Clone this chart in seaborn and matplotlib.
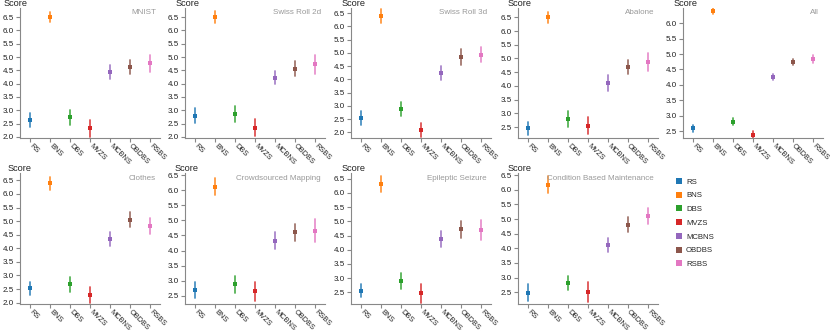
import numpy as np
import pandas as pd
import seaborn as sns
import matplotlib
matplotlib.use("Agg")
import matplotlib.pyplot as plt
from matplotlib.patches import Patch
from matplotlib.ticker import MultipleLocator, FormatStrFormatter

methods = ["RS", "BNS", "DBS", "MVZS", "MCBNS", "OBDBS", "RSBS"]
palette = ["#1f77b4", "#ff7f0e", "#2ca02c", "#d62728", "#9467bd", "#8c564b", "#e377c2"]

datasets = ["MNIST", "Swiss Roll 2d", "Swiss Roll 3d", "Abalone", "All",
            "Clothes", "Crowdsourced Mapping", "Epileptic Seizure", "Condition Based Maintenance"]

mnist_mean = [2.63, 6.51, 2.73, 2.32, 4.43, 4.64, 4.76]
mnist_err = [0.27, 0.19, 0.27, 0.31, 0.27, 0.26, 0.31]
swiss2d_mean = [2.80, 6.50, 2.86, 2.35, 4.23, 4.56, 4.73]
swiss2d_err = [0.28, 0.23, 0.29, 0.31, 0.25, 0.29, 0.35]
swiss3d_mean = [2.54, 6.39, 2.89, 2.10, 4.25, 4.86, 4.93]
swiss3d_err = [0.27, 0.25, 0.26, 0.27, 0.27, 0.30, 0.29]
abalone_mean = [2.46, 6.50, 2.79, 2.55, 4.12, 4.69, 4.88]
abalone_err = [0.24, 0.20, 0.29, 0.32, 0.29, 0.26, 0.32]
all_mean = [2.59, 6.38, 2.81, 2.39, 4.26, 4.74, 4.83]
all_err = [0.11, 0.10, 0.11, 0.11, 0.10, 0.11, 0.13]
clothes_mean = [2.53, 6.39, 2.68, 2.28, 4.35, 5.05, 4.82]
clothes_err = [0.24, 0.23, 0.28, 0.29, 0.26, 0.27, 0.31]
crowd_mean = [2.70, 6.12, 2.88, 2.65, 4.33, 4.60, 4.66]
crowd_err = [0.27, 0.28, 0.29, 0.32, 0.27, 0.29, 0.39]
epileptic_mean = [2.56, 6.30, 2.89, 2.46, 4.38, 4.72, 4.70]
epileptic_err = [0.24, 0.28, 0.28, 0.33, 0.29, 0.29, 0.35]
cbm_mean = [2.49, 6.17, 2.82, 2.51, 4.10, 4.80, 5.11]
cbm_err = [0.28, 0.29, 0.25, 0.33, 0.24, 0.26, 0.27]

means = [mnist_mean, swiss2d_mean, swiss3d_mean, abalone_mean, all_mean,
         clothes_mean, crowd_mean, epileptic_mean, cbm_mean]
errs = [mnist_err, swiss2d_err, swiss3d_err, abalone_err, all_err,
        clothes_err, crowd_err, epileptic_err, cbm_err]

# y domains per panel
ylims = [(1.96, 6.84), (1.96, 6.84), (1.79, 6.69), (2.10, 6.84), (2.28, 6.49),
         (1.95, 6.77), (2.23, 6.57), (2.09, 6.70), (2.10, 6.57)]

sns.set_theme(style="white")
plt.rcParams["font.family"] = ["Liberation Sans", "DejaVu Sans"]

W, H = 830, 332
fig = plt.figure(figsize=(W / 100, H / 100), dpi=100)

lefts = [20, 185, 351, 518, 683]
rows = [(8, 138), (173, 304)]
score_off = [16, 9, 9, 10, 9, 12, 10, 9, 10]
axw = 140
axis_col = "#888888"

for i, name in enumerate(datasets):
    r, c = divmod(i, 5)
    top, bot = rows[r]
    left = lefts[c]
    ax = fig.add_axes([left / W, 1 - bot / H, axw / W, (bot - top) / H])
    m = np.array(means[i]); e = np.array(errs[i])
    df = pd.DataFrame({
        "method": np.repeat(methods, 3),
        "score": np.column_stack([m - e, m, m + e]).ravel(),
    })
    sns.pointplot(data=df, x="method", y="score", hue="method", order=methods,
                  hue_order=methods, palette=palette, estimator="median",
                  errorbar=("pi", 100), markers="s", linestyle="none",
                  markersize=2.4, markeredgewidth=0,
                  err_kws={"linewidth": 1.3, "alpha": 0.8},
                  legend=False, ax=ax)
    ax.set_xlim(-0.5, 6.5)
    ax.set_ylim(*ylims[i])
    ax.yaxis.set_major_locator(MultipleLocator(0.5))
    ax.yaxis.set_major_formatter(FormatStrFormatter("%.1f"))
    ax.set_xlabel("")
    ax.set_ylabel("")
    for s in ["top", "right"]:
        ax.spines[s].set_visible(False)
    for s in ["left", "bottom"]:
        ax.spines[s].set_color(axis_col)
        ax.spines[s].set_linewidth(0.8)
    ax.tick_params(axis="both", which="major", length=3, width=0.8, color=axis_col,
                   labelsize=5.8, labelcolor="#222222", pad=1.5, direction="out",
                   left=True, bottom=True)
    ax.tick_params(axis="x", pad=2.0, labelsize=5.3)
    for lab in ax.get_xticklabels():
        lab.set_rotation(-45)
        lab.set_ha("left")
        lab.set_va("center")
        lab.set_rotation_mode("anchor")
    fig.text((left - score_off[i]) / W, 1 - (top - 4.5) / H, "Score",
             ha="left", va="center", fontsize=6.6, color="#222222")
    fig.text((left + axw - 4) / W, 1 - (top + 5) / H, name, ha="right", va="center",
             fontsize=5.8, color="#999999")

handles = [Patch(facecolor=col, edgecolor="none", label=mth) for mth, col in zip(methods, palette)]
fig.legend(handles=handles, loc="upper left", bbox_to_anchor=(676 / W, 1 - 178 / H),
           frameon=False, fontsize=5.6, handlelength=0.8, handleheight=0.8,
           handletextpad=0.5, labelspacing=0.78, borderpad=0, borderaxespad=0)

fig.savefig("out.png", dpi=100)
